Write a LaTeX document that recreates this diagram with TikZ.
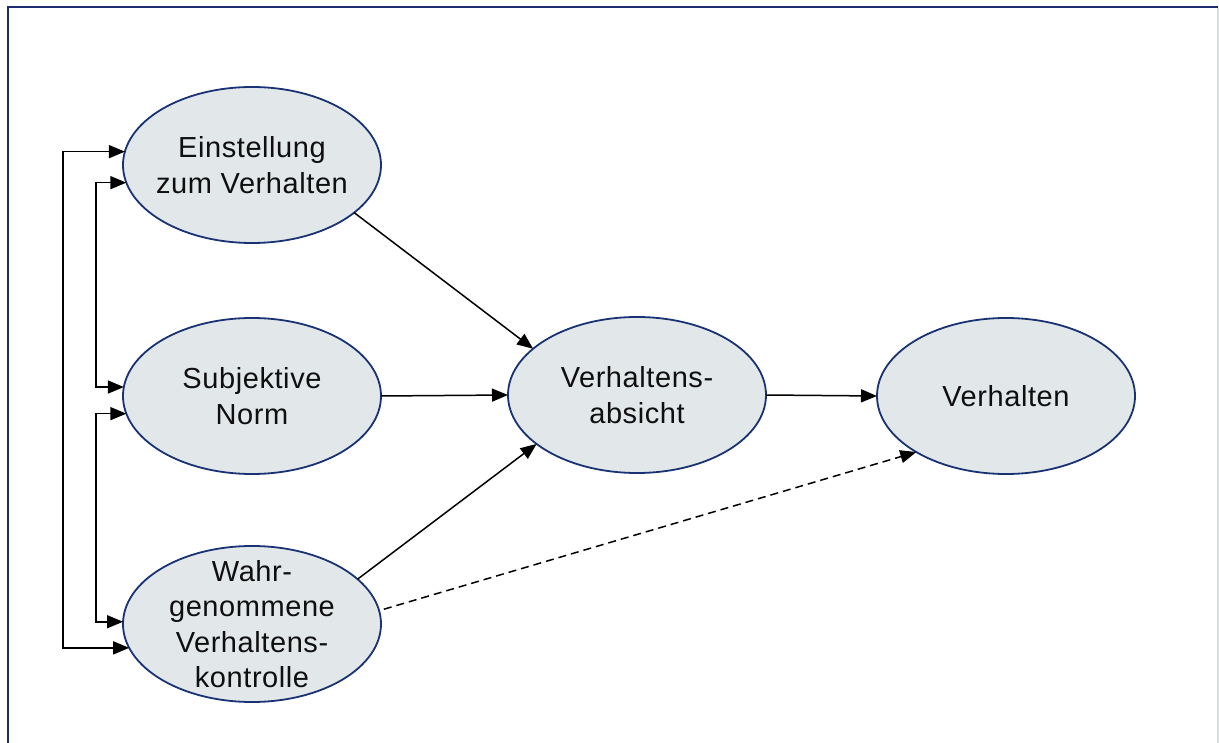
\documentclass[tikz,border=0pt]{standalone}
\usepackage{fontspec}
\setmainfont{Liberation Sans}[LetterSpace=2.0]
\usetikzlibrary{shapes.geometric,arrows.meta}

\definecolor{framenavy}{RGB}{27,45,110}
\definecolor{framelight}{RGB}{214,220,232}
\definecolor{ovalline}{RGB}{25,50,115}
\definecolor{ovalfill}{RGB}{226,231,233}
\definecolor{ink}{RGB}{15,15,15}

\tikzset{
  construct/.style={ellipse, draw=ovalline, line width=1.8pt, fill=ovalfill,
    minimum width=258pt, minimum height=156pt, inner sep=0pt, outer sep=0pt},
  lbl/.style={align=center, inner sep=0pt, text=ink,
    font=\fontsize{29}{35.5}\selectfont},
  tip/.tip={Triangle[length=16pt,width=13pt]},
  link/.style={line width=1.5pt, draw=black, -tip},
  both/.style={line width=1.5pt, draw=black, tip-tip},
  weak/.style={line width=1.5pt, draw=black, -tip, dash pattern=on 8pt off 5pt}
}

\begin{document}
\begin{tikzpicture}[x=1pt, y=-1pt]
  \useasboundingbox (0,0) rectangle (1219,743);

  % frame
  \draw[framenavy, line width=2.5pt] (7.8,743) -- (7.8,6.8) -- (1218,6.8);
  \draw[framelight, line width=1.5pt] (1218,8) -- (1218,743);

  % constructs
  \node[construct, label={[lbl]center:{Einstellung\\zum Verhalten}}] (E1) at (252,165) {};
  \node[construct, label={[lbl]center:{Subjektive\\Norm}}] (E2) at (252,396) {};
  \node[construct, label={[lbl]center:{Wahr-\\genommene\\Verhaltens-\\kontrolle}}] (E3) at (252,624) {};
  \node[construct, label={[lbl]center:{Verhaltens-\\absicht}}] (E4) at (637,395) {};
  \node[construct, label={[lbl]center:{Verhalten}}] (E5) at (1006,396) {};

  % x positions of the correlation brackets
  \coordinate (xo) at (63,0);
  \coordinate (xi) at (96,0);

  % correlations among the predictors
  \draw[both] (E1.174) -| (xo |- E3.191) -- (E3.191);
  \draw[both] (E1.188) -| (xi |- E2.176) -- (E2.176);
  \draw[both] (E2.188) -| (xi |- E3.179) -- (E3.179);

  % paths to the intention
  \draw[link] (E1.-25) -- (E4.156);
  \draw[link] (E2.east) -- (E4.west);
  \draw[link] (E3.23) -- (E4.206);

  % intention to behaviour
  \draw[link] (E4.east) -- (E5.west);
  \draw[weak, shorten <=5pt] (E3.6) -- (E5.212);
\end{tikzpicture}
\end{document}
